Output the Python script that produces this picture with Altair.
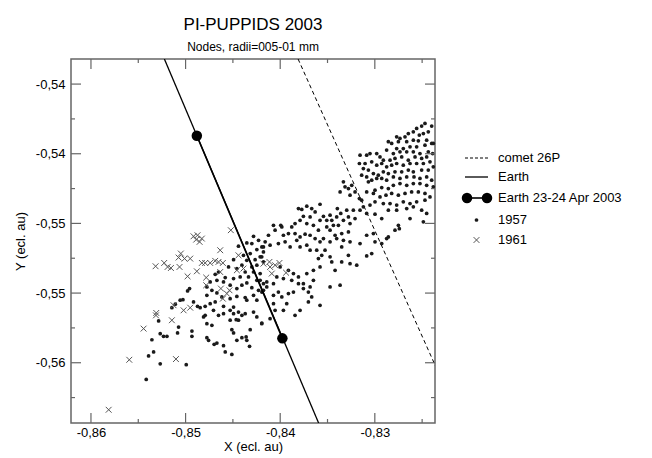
import altair as alt
import pandas as pd

# ---------------- data ----------------
# 1957 nodes, left/middle part near the Earth line
x57_a = [-0.84282,-0.84229,-0.84353,-0.84300,-0.84441,-0.84194,-0.84247,-0.84177,-0.84317,-0.84388,
         -0.84212,-0.84265,-0.84353,-0.84493,-0.84177,-0.84247,-0.84300,-0.84405,-0.84458,-0.84546,
         -0.84370,-0.84282,-0.84212,-0.84335,-0.84423,-0.84493,-0.84247,-0.84177,-0.84353,-0.84405,
         -0.84300,-0.84229,-0.84194,-0.84458,-0.84529,-0.84599,-0.84669,-0.84687,-0.84652,-0.84581,
         -0.84740,-0.84775,-0.84722,-0.84775,-0.84669,-0.84617,-0.84529,-0.84458,-0.84370,-0.84282,
         -0.84247,-0.84353,-0.84493,-0.84441,-0.84529,-0.84599,-0.84687,-0.84740,-0.84793,-0.84846,
         -0.84979,-0.84958,-0.85057,-0.85028,-0.85145,-0.85109,-0.84916,-0.84874,-0.84793,-0.84810,
         -0.84705,-0.84652,-0.84599,-0.84493,-0.84441,-0.84405,-0.84370,-0.84282,-0.84247,-0.84194,
         -0.84529,-0.84465,-0.84775,-0.84722,-0.84775,-0.84757,-0.84698,-0.84669,-0.84933,-0.84933,
         -0.85074,-0.85085,-0.85268,-0.85233,-0.85197,-0.85356,-0.85285,-0.84599,-0.84581,-0.84511,
         -0.84511,-0.84493,-0.84458,-0.84405,-0.84360,-0.84353,-0.84324,-0.84317,-0.85391,-0.85338,
         -0.85268,-0.84993,-0.85416]
y57_a = [-0.54874,-0.54897,-0.54912,-0.54916,-0.54931,-0.54935,-0.54950,-0.54964,-0.54973,-0.54983,
         -0.54992,-0.55008,-0.55012,-0.55008,-0.55021,-0.55040,-0.55050,-0.55040,-0.55059,-0.55050,
         -0.55079,-0.55079,-0.55088,-0.55107,-0.55107,-0.55117,-0.55127,-0.55146,-0.55142,-0.55155,
         -0.55169,-0.55184,-0.55194,-0.55174,-0.55155,-0.55136,-0.55127,-0.55092,-0.55079,-0.55111,
         -0.55136,-0.55165,-0.55184,-0.55213,-0.55199,-0.55222,-0.55232,-0.55219,-0.55226,-0.55213,
         -0.55241,-0.55241,-0.55280,-0.55309,-0.55299,-0.55276,-0.55251,-0.55261,-0.55276,-0.55284,
         -0.55188,-0.55174,-0.55241,-0.55238,-0.55284,-0.55264,-0.55251,-0.55276,-0.55328,-0.55337,
         -0.55299,-0.55328,-0.55318,-0.55318,-0.55356,-0.55328,-0.55318,-0.55309,-0.55337,-0.55372,
         -0.55356,-0.55353,-0.55376,-0.55385,-0.55456,-0.55471,-0.55494,-0.55487,-0.55418,-0.55448,
         -0.55395,-0.55429,-0.55433,-0.55448,-0.55448,-0.55468,-0.55360,-0.55502,-0.55538,-0.55552,
         -0.55410,-0.55429,-0.55471,-0.55456,-0.55452,-0.55471,-0.55506,-0.55410,-0.55561,-0.55538,
         -0.55606,-0.55611,-0.55696]

# 1957 nodes, upper-right band
x57_b = [-0.82470,-0.82505,-0.82558,-0.82399,-0.82435,-0.82487,-0.82530,-0.82593,-0.82646,-0.82681,
         -0.82734,-0.82769,-0.82751,-0.82663,-0.82593,-0.82540,-0.82452,-0.82399,-0.82382,-0.82470,
         -0.82558,-0.82628,-0.82699,-0.82769,-0.82822,-0.82857,-0.82875,-0.82804,-0.82734,-0.82663,
         -0.82593,-0.82523,-0.82435,-0.82389,-0.82452,-0.82505,-0.82575,-0.82646,-0.82716,-0.82787,
         -0.82839,-0.82910,-0.82945,-0.82980,-0.83051,-0.83086,-0.83156,-0.83163,-0.83103,-0.83033,
         -0.82980,-0.82927,-0.82875,-0.82822,-0.82769,-0.82699,-0.82628,-0.82558,-0.82487,-0.82417,
         -0.82382,-0.82435,-0.82505,-0.82593,-0.82646,-0.82716,-0.82787,-0.82857,-0.82910,-0.82963,
         -0.83015,-0.83068,-0.83121,-0.83139,-0.83086,-0.83033,-0.82980,-0.82927,-0.82875,-0.82804,
         -0.82734,-0.82663,-0.82586,-0.82523,-0.82452,-0.82399,-0.82382,-0.82452,-0.82523,-0.82593,
         -0.82663,-0.82734,-0.82804,-0.82857,-0.82927,-0.82998,-0.83068,-0.83315,-0.83279,-0.83244,
         -0.83209,-0.83367,-0.83332,-0.83262,-0.83163,-0.83139,-0.83086,-0.83015,-0.82945,-0.82882,
         -0.82822,-0.82751,-0.82681,-0.82611,-0.82540,-0.82470,-0.82417,-0.82470,-0.82558,-0.82628,
         -0.82699,-0.82769,-0.82839,-0.82910,-0.82998,-0.83051,-0.83121,-0.83156,-0.83086,-0.82998,
         -0.82927,-0.82857,-0.82769,-0.82663,-0.82593,-0.82505,-0.82452,-0.82487,-0.82628,-0.82751,
         -0.82741,-0.82787,-0.82857,-0.83015,-0.83086,-0.83156,-0.83262,-0.83350,-0.83279,-0.83191,
         -0.83086,-0.83033,-0.82998,-0.82927,-0.82875]
y57_b = [-0.54226,-0.54241,-0.54255,-0.54241,-0.54274,-0.54284,-0.54293,-0.54274,-0.54284,-0.54303,
         -0.54312,-0.54303,-0.54331,-0.54331,-0.54322,-0.54326,-0.54322,-0.54341,-0.54341,-0.54351,
         -0.54360,-0.54360,-0.54370,-0.54370,-0.54341,-0.54331,-0.54379,-0.54399,-0.54389,-0.54389,
         -0.54389,-0.54399,-0.54389,-0.54399,-0.54418,-0.54427,-0.54418,-0.54437,-0.54418,-0.54427,
         -0.54437,-0.54437,-0.54418,-0.54399,-0.54399,-0.54408,-0.54408,-0.54456,-0.54456,-0.54446,
         -0.54466,-0.54456,-0.54475,-0.54466,-0.54456,-0.54466,-0.54456,-0.54456,-0.54456,-0.54446,
         -0.54475,-0.54494,-0.54494,-0.54504,-0.54494,-0.54504,-0.54504,-0.54514,-0.54504,-0.54523,
         -0.54514,-0.54494,-0.54485,-0.54523,-0.54533,-0.54552,-0.54542,-0.54542,-0.54552,-0.54533,
         -0.54542,-0.54533,-0.54533,-0.54542,-0.54533,-0.54552,-0.54590,-0.54581,-0.54571,-0.54571,
         -0.54581,-0.54571,-0.54581,-0.54600,-0.54594,-0.54609,-0.54561,-0.54590,-0.54600,-0.54581,
         -0.54619,-0.54619,-0.54561,-0.54638,-0.54657,-0.54667,-0.54619,-0.54628,-0.54648,-0.54638,
         -0.54628,-0.54638,-0.54628,-0.54619,-0.54619,-0.54628,-0.54648,-0.54667,-0.54676,-0.54686,
         -0.54676,-0.54695,-0.54686,-0.54686,-0.54676,-0.54695,-0.54705,-0.54724,-0.54743,-0.54747,
         -0.54772,-0.54724,-0.54724,-0.54715,-0.54705,-0.54724,-0.54743,-0.54791,-0.54772,-0.54811,
         -0.54830,-0.54839,-0.54878,-0.54858,-0.54868,-0.54916,-0.54906,-0.54935,-0.54983,-0.55040,
         -0.54987,-0.54973,-0.54906,-0.54916,-0.54887]

# 1957 nodes, middle of the band
x57_c = [-0.83807,-0.83772,-0.83719,-0.83667,-0.83579,-0.83631,-0.83543,-0.83473,-0.83508,-0.83579,
         -0.83684,-0.83755,-0.83790,-0.83843,-0.83878,-0.83719,-0.83649,-0.83596,-0.83508,-0.83438,
         -0.83385,-0.83396,-0.83360,-0.83297,-0.83227,-0.83279,-0.83332,-0.83262,-0.83209,-0.83403,
         -0.83455,-0.83473,-0.83420,-0.83350,-0.83279,-0.83332,-0.83403,-0.83473,-0.83543,-0.83579,
         -0.83631,-0.83684,-0.83737,-0.83790,-0.83825,-0.83843,-0.83913,-0.83966,-0.83994,-0.84071,
         -0.83983,-0.84054,-0.84124,-0.84159,-0.84107,-0.84019,-0.83948,-0.83895,-0.83790,-0.83719,
         -0.83684,-0.83614,-0.83526,-0.83561,-0.83596,-0.83473,-0.83455,-0.83579,-0.83649,-0.83719,
         -0.83807,-0.83860,-0.83913,-0.84001,-0.84036,-0.84071,-0.84142,-0.83966,-0.83878,-0.83807,
         -0.83755,-0.83684,-0.83702,-0.83667,-0.83702,-0.83790,-0.83843,-0.83931,-0.83966,-0.84019,
         -0.84071,-0.83983,-0.83913,-0.83860,-0.83579,-0.83473,-0.83367,-0.83420,-0.83350,-0.83262,
         -0.83755,-0.83649,-0.84177,-0.84195,-0.84212,-0.84142,-0.84071,-0.84054,-0.84195,-0.84177,
         -0.84107]
y57_c = [-0.54715,-0.54720,-0.54701,-0.54715,-0.54690,-0.54734,-0.54759,-0.54753,-0.54782,-0.54782,
         -0.54763,-0.54759,-0.54782,-0.54801,-0.54820,-0.54801,-0.54811,-0.54839,-0.54820,-0.54811,
         -0.54811,-0.54715,-0.54743,-0.54724,-0.54724,-0.54763,-0.54782,-0.54801,-0.54772,-0.54763,
         -0.54782,-0.54839,-0.54868,-0.54858,-0.54849,-0.54897,-0.54887,-0.54906,-0.54887,-0.54906,
         -0.54887,-0.54868,-0.54862,-0.54878,-0.54897,-0.54858,-0.54858,-0.54868,-0.54811,-0.54811,
         -0.54820,-0.54839,-0.54868,-0.54906,-0.54925,-0.54916,-0.54906,-0.54935,-0.54935,-0.54925,
         -0.54954,-0.54954,-0.54954,-0.54983,-0.55002,-0.54992,-0.55021,-0.55050,-0.55069,-0.55088,
         -0.55107,-0.55088,-0.55069,-0.55050,-0.55107,-0.55146,-0.55136,-0.55117,-0.55127,-0.55146,
         -0.55174,-0.55165,-0.55194,-0.55222,-0.55251,-0.55299,-0.55328,-0.55261,-0.55299,-0.55194,
         -0.55213,-0.55222,-0.55203,-0.55194,-0.55270,-0.55165,-0.55155,-0.55069,-0.55021,-0.55031,
         -0.55146,-0.55127,-0.54935,-0.54992,-0.55127,-0.55165,-0.55261,-0.55299,-0.55376,-0.55184,
         -0.55347]

# 1961 nodes
x61 = [-0.84916,-0.84874,-0.84888,-0.84852,-0.84828,-0.84522,-0.84634,-0.85050,-0.85074,-0.85011,
       -0.84951,-0.85226,-0.85190,-0.85155,-0.85317,-0.85064,-0.84828,-0.84793,-0.84740,-0.84687,
       -0.84652,-0.84606,-0.84441,-0.84979,-0.84881,-0.84782,-0.84782,-0.84634,-0.84458,-0.84388,
       -0.84627,-0.84536,-0.84564,-0.84606,-0.85127,-0.85021,-0.84951,-0.85310,-0.85313,-0.85145,
       -0.85444,-0.85595,-0.85102,-0.85813,
       -0.84177,-0.84114,-0.84054,-0.84008,-0.83938,-0.84089,-0.84107]
y61 = [-0.54874,-0.54868,-0.54893,-0.54906,-0.54887,-0.54839,-0.54954,-0.54973,-0.54996,-0.55002,
       -0.55002,-0.55027,-0.55050,-0.55056,-0.55046,-0.55050,-0.55027,-0.55027,-0.55027,-0.55015,
       -0.55021,-0.55027,-0.54983,-0.55104,-0.55075,-0.55111,-0.55155,-0.55079,-0.55069,-0.55059,
       -0.55174,-0.55184,-0.55203,-0.55232,-0.55270,-0.55299,-0.55284,-0.55314,-0.55328,-0.55356,
       -0.55404,-0.55583,-0.55579,-0.55870,
       -0.55031,-0.55021,-0.55040,-0.55027,-0.55083,-0.55088,-0.55050]

# Earth orbit, comet 26P orbit, Earth positions 23-24 Apr 2003
earth_x = [-0.85224, -0.83594]
earth_y = [-0.53856, -0.55946]
comet_x = [-0.83811, -0.82340]
comet_y = [-0.53856, -0.55642]
date_x = [-0.84881, -0.83977]
date_y = [-0.54297, -0.55460]

# axes
x_domain = [-0.86211, -0.82364]
y_domain = [-0.55946, -0.53856]
x_major = [-0.86, -0.85, -0.84, -0.83]
x_minor = [-0.855, -0.845, -0.835, -0.825]
y_major = [-0.540, -0.544, -0.548, -0.552, -0.556]
y_minor = [-0.542, -0.546, -0.550, -0.554, -0.558]

legend_labels = ["comet 26P", "Earth", "Earth 23-24 Apr 2003", "1957", "1961"]

# ---------------- styling ----------------
FONT = "Liberation Sans"
FRAME = "#666666"
W, H = 364, 364

label_expr = "replace(replace(format(datum.value, '.2f'), '.', ','), '\u2212', '-')"

xs = alt.Scale(domain=x_domain, nice=False, zero=False)
ys = alt.Scale(domain=y_domain, nice=False, zero=False)
xaxis = alt.Axis(title="X (ecl. au)", values=x_major, ticks=False, domain=False, grid=False,
                 labelExpr=label_expr, labelPadding=3, titlePadding=1)
yaxis = alt.Axis(title="Y (ecl. au)", values=y_major, ticks=False, domain=False, grid=False,
                 labelExpr=label_expr, labelPadding=6, titlePadding=8)

X = alt.X("x:Q", scale=xs, axis=xaxis)
Y = alt.Y("y:Q", scale=ys, axis=yaxis)

df57 = pd.DataFrame({"x": x57_a + x57_b + x57_c, "y": y57_a + y57_b + y57_c})
df61 = pd.DataFrame({"x": x61, "y": y61})
df_earth = pd.DataFrame({"x": earth_x, "y": earth_y})
df_comet = pd.DataFrame({"x": comet_x, "y": comet_y})
df_date = pd.DataFrame({"x": date_x, "y": date_y})

XSHAPE = "M-1,-1L1,1M1,-1L-1,1"
DOT_SIZE = 14
X_SIZE = 34

layers = []
layers.append(alt.Chart(df_comet).mark_line(color="black", strokeWidth=1, strokeDash=[4, 3], clip=True)
              .encode(x=X, y=Y))
layers.append(alt.Chart(df_earth).mark_line(color="black", strokeWidth=1.3, clip=True)
              .encode(x=X, y=Y))
layers.append(alt.Chart(df57).mark_circle(size=DOT_SIZE, color="#1a1a1a", opacity=1).encode(x=X, y=Y))
layers.append(alt.Chart(df61).mark_point(shape=XSHAPE, size=X_SIZE, color="#555555", strokeWidth=1,
                                         filled=False, opacity=1).encode(x=X, y=Y))
layers.append(alt.Chart(df_date).mark_line(color="black", strokeWidth=1.6).encode(x=X, y=Y))
layers.append(alt.Chart(df_date).mark_circle(size=110, color="black", opacity=1).encode(x=X, y=Y))

# box ticks (inward) on all four sides
for vals, ln in ((x_major, 10), (x_minor, 4)):
    d = pd.DataFrame({"x": vals})
    layers.append(alt.Chart(d).mark_rule(color=FRAME, strokeWidth=1.2)
                  .encode(x=X, y=alt.value(H), y2=alt.value(H - ln)))
    layers.append(alt.Chart(d).mark_rule(color=FRAME, strokeWidth=1.2)
                  .encode(x=X, y=alt.value(0), y2=alt.value(ln)))
for vals, ln in ((y_major, 10), (y_minor, 4)):
    d = pd.DataFrame({"y": vals})
    layers.append(alt.Chart(d).mark_rule(color=FRAME, strokeWidth=1.2)
                  .encode(y=Y, x=alt.value(0), x2=alt.value(ln)))
    layers.append(alt.Chart(d).mark_rule(color=FRAME, strokeWidth=1.2)
                  .encode(y=Y, x=alt.value(W), x2=alt.value(W - ln)))

# legend (right of the plot)
one = pd.DataFrame({"k": [0]})
LX0, LX1, LT = 394, 417, 427
rows = [99, 118, 139, 161, 181]
layers.append(alt.Chart(one).mark_rule(color="black", strokeWidth=1, strokeDash=[3, 2])
              .encode(x=alt.value(LX0), x2=alt.value(LX1), y=alt.value(rows[0])))
layers.append(alt.Chart(one).mark_rule(color="black", strokeWidth=1.3)
              .encode(x=alt.value(LX0), x2=alt.value(LX1), y=alt.value(rows[1])))
layers.append(alt.Chart(one).mark_rule(color="black", strokeWidth=1.6)
              .encode(x=alt.value(LX0 + 2), x2=alt.value(LX1 - 1), y=alt.value(rows[2])))
for px in (LX0 + 2, LX1 - 1):
    layers.append(alt.Chart(one).mark_circle(size=110, color="black", opacity=1)
                  .encode(x=alt.value(px), y=alt.value(rows[2])))
layers.append(alt.Chart(one).mark_circle(size=DOT_SIZE, color="#1a1a1a", opacity=1)
              .encode(x=alt.value((LX0 + LX1) / 2), y=alt.value(rows[3])))
layers.append(alt.Chart(one).mark_point(shape=XSHAPE, size=X_SIZE, color="#555555", strokeWidth=1,
                                        filled=False, opacity=1)
              .encode(x=alt.value((LX0 + LX1) / 2), y=alt.value(rows[4])))
for lab, ry in zip(legend_labels, rows):
    layers.append(alt.Chart(one).mark_text(align="left", baseline="middle", font=FONT,
                                           fontSize=13, color="black")
                  .encode(x=alt.value(LT), y=alt.value(ry), text=alt.value(lab)))

chart = (
    alt.layer(*layers)
    .properties(
        width=W, height=H,
        title=alt.TitleParams(text="PI-PUPPIDS 2003", subtitle="Nodes, radii=005-01 mm",
                              font=FONT, subtitleFont=FONT, fontSize=17, subtitleFontSize=12,
                              fontWeight="normal", color="black", subtitleColor="black",
                              anchor="middle", frame="group", offset=4, subtitlePadding=8),
        padding={"left": 63, "top": 51, "right": 209, "bottom": 34},
        autosize=alt.AutoSizeParams(type="none"),
    )
    .configure_view(stroke=FRAME, strokeWidth=1.5)
    .configure_axis(labelFont=FONT, titleFont=FONT, labelFontSize=13, titleFontSize=13,
                    labelColor="black", titleColor="black", titleFontWeight="normal")
)

chart.save("out.html", embed_options={"renderer": "svg", "actions": False})
